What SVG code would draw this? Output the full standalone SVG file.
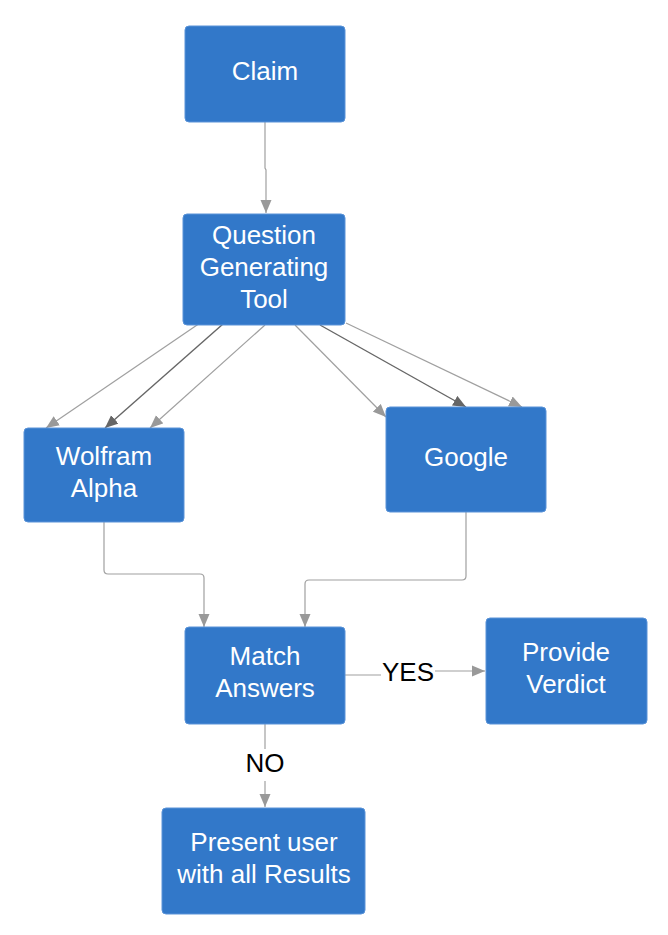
<svg xmlns="http://www.w3.org/2000/svg" width="668" height="935" viewBox="0 0 668 935">
<style>
.box{fill:#3278c9;stroke:#5a93d8;stroke-width:1}
.t{font-family:"Liberation Sans",Arial,sans-serif;font-size:26px;fill:#ffffff;text-anchor:middle}
.lbl{font-family:"Liberation Sans",Arial,sans-serif;font-size:26px;fill:#000000;text-anchor:middle}
.c{fill:none;stroke:#a0a0a0;stroke-width:1.2}
.cd{fill:none;stroke:#666666;stroke-width:1.4}
</style>
<defs>
<marker id="ah" markerUnits="userSpaceOnUse" markerWidth="14" markerHeight="12" refX="13" refY="6" orient="auto">
<path d="M0,0.5 L13,6 L0,11.5 z" fill="#999999"/>
</marker>
<marker id="ahd" markerUnits="userSpaceOnUse" markerWidth="14" markerHeight="12" refX="13" refY="6" orient="auto">
<path d="M0,0.5 L13,6 L0,11.5 z" fill="#666666"/>
</marker>
</defs>
<rect width="668" height="935" fill="#ffffff"/>
<g id="connectors">
<path class="c" d="M265,122 V168 L266,170 V213" marker-end="url(#ah)"/>
<path class="c" d="M200,323 L46,428" marker-end="url(#ah)"/>
<path class="cd" d="M223,324 L105,428" marker-end="url(#ahd)"/>
<path class="c" d="M265,325 L150,428" marker-end="url(#ah)"/>
<path class="c" d="M295,325 L386,417" marker-end="url(#ah)"/>
<path class="cd" d="M320,325 L466,407" marker-end="url(#ahd)"/>
<path class="c" d="M346,323 L522,407" marker-end="url(#ah)"/>
<path class="c" d="M104,522 V570 Q104,574 108,574 H200 Q204,574 204,578 V627" marker-end="url(#ah)"/>
<path class="c" d="M466,512 V576 Q466,580 462,580 H309 Q305,580 305,584 V627" marker-end="url(#ah)"/>
<path class="c" d="M345,675 H408 V671 H485" marker-end="url(#ah)"/>
<path class="c" d="M265,724 V807" marker-end="url(#ah)"/>
<rect x="381" y="658" width="54" height="28" fill="#ffffff"/>
<text class="lbl" x="408" y="681">YES</text>
<rect x="242" y="749" width="46" height="32" fill="#ffffff"/>
<text class="lbl" x="265" y="772">NO</text>
</g>
<g id="claim">
<rect class="box" x="185" y="26" width="160" height="96" rx="4"/>
<text class="t" x="265" y="80">Claim</text>
</g>
<g id="question-generating-tool">
<rect class="box" x="183" y="214" width="162" height="111" rx="4"/>
<text class="t" x="264" y="244">Question</text>
<text class="t" x="264" y="276">Generating</text>
<text class="t" x="264" y="308">Tool</text>
</g>
<g id="wolfram-alpha">
<rect class="box" x="24" y="428" width="160" height="94" rx="4"/>
<text class="t" x="104" y="465">Wolfram</text>
<text class="t" x="104" y="497">Alpha</text>
</g>
<g id="google">
<rect class="box" x="386" y="407" width="160" height="105" rx="4"/>
<text class="t" x="466" y="466">Google</text>
</g>
<g id="match-answers">
<rect class="box" x="185" y="627" width="160" height="97" rx="4"/>
<text class="t" x="265" y="665">Match</text>
<text class="t" x="265" y="697">Answers</text>
</g>
<g id="provide-verdict">
<rect class="box" x="486" y="618" width="161" height="106" rx="4"/>
<text class="t" x="566" y="661">Provide</text>
<text class="t" x="566" y="693">Verdict</text>
</g>
<g id="present-results">
<rect class="box" x="162" y="808" width="203" height="106" rx="4"/>
<text class="t" x="264" y="851">Present user</text>
<text class="t" x="264" y="883">with all Results</text>
</g>
</svg>
